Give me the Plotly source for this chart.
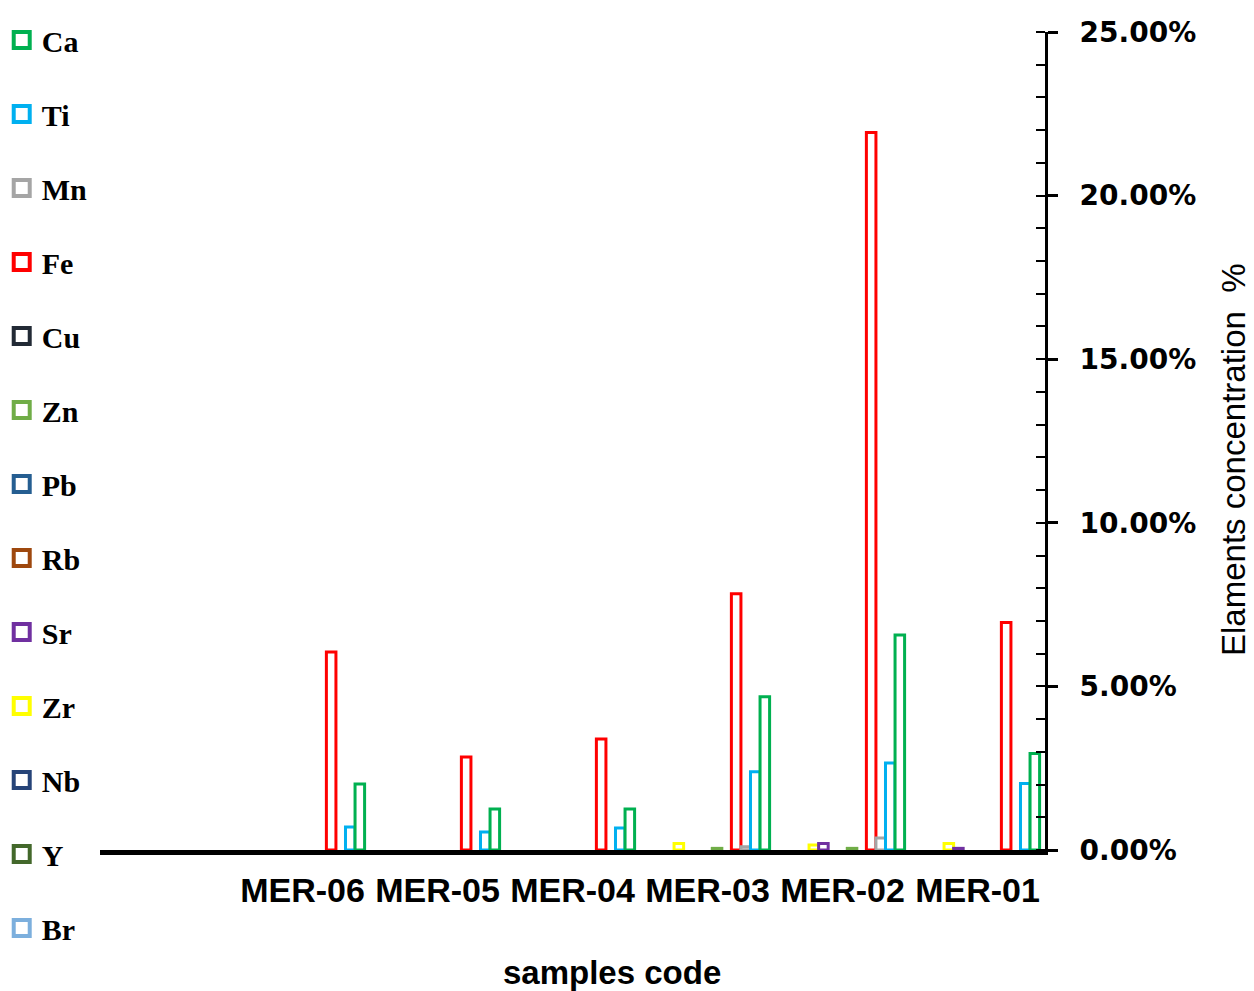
import plotly.graph_objects as go

samples = ["MER-06", "MER-05", "MER-04", "MER-03", "MER-02", "MER-01"]

# element concentrations in percent, per sample (0 = not visible / not detected)
Br = [0, 0, 0, 0, 0, 0]
Y = [0, 0, 0, 0, 0, 0]
Nb = [0, 0, 0, 0, 0, 0]
Zr = [0, 0, 0, 0.20, 0.15, 0.20]
Sr = [0, 0, 0, 0, 0.20, 0.05]
Rb = [0, 0, 0, 0, 0, 0]
Pb = [0, 0, 0, 0, 0, 0]
Zn = [0, 0, 0, 0.05, 0.05, 0]
Cu = [0, 0, 0, 0, 0, 0]
Fe = [6.05, 2.84, 3.39, 7.83, 21.93, 6.95]
Mn = [0, 0, 0, 0.10, 0.37, 0]
Ti = [0.70, 0.55, 0.67, 2.39, 2.66, 2.03]
Ca = [2.02, 1.25, 1.25, 4.68, 6.57, 2.95]

# drawing order (left to right inside a group); legend lists them reversed
series = [
    ("Br", Br, "#7CAFDD"),
    ("Y", Y, "#43682B"),
    ("Nb", Nb, "#264478"),
    ("Zr", Zr, "#FFFF00"),
    ("Sr", Sr, "#7030A0"),
    ("Rb", Rb, "#9E480E"),
    ("Pb", Pb, "#255E91"),
    ("Zn", Zn, "#70AD47"),
    ("Cu", Cu, "#222A35"),
    ("Fe", Fe, "#FF0000"),
    ("Mn", Mn, "#A5A5A5"),
    ("Ti", Ti, "#00B0F0"),
    ("Ca", Ca, "#00B050"),
]

fig = go.Figure()
n = len(series)
for i, (name, vals, col) in enumerate(series):
    fig.add_trace(go.Bar(
        x=samples, y=[v if v > 0 else None for v in vals],
        name=name, legendgroup=name, showlegend=False,
        marker=dict(color="white", line=dict(color=col, width=3)),
    ))
    # legend entry with a larger outlined square symbol
    fig.add_trace(go.Scatter(
        x=[None], y=[None], mode="markers", name=name, legendgroup=name,
        legendrank=n - i, showlegend=True, hoverinfo="skip",
        marker=dict(symbol="square-open", size=16, color=col, line=dict(width=4, color=col)),
    ))

# plot area (figure pixels): x 92..1037, y 24..842  (page is offset by 8px body margin)
L, R, T, B = 92, 1037, 24, 842
PW, PH = R - L, B - T

fig.update_layout(
    width=1254, height=991,
    margin=dict(l=L, r=1254 - R, t=T, b=991 - B, autoexpand=False),
    paper_bgcolor="white", plot_bgcolor="white",
    barmode="group", bargap=0.08, bargroupgap=0,
    showlegend=True,
    legend=dict(
        x=-0.104, xanchor="left", y=1 + 18 / PH, yanchor="top",
        traceorder="grouped", tracegroupgap=32, maxheight=1.0,
        font=dict(family="Liberation Serif", size=30, color="black", weight="bold"),
        itemwidth=30, bgcolor="rgba(0,0,0,0)",
    ),
    xaxis=dict(
        type="category", range=[-1.5, 5.5], automargin=False,
        showline=True, linecolor="black", linewidth=5,
        showgrid=False, ticks="", ticklabelstandoff=6,
        tickfont=dict(family="Liberation Sans", size=34, color="black", weight="bold"),
    ),
    yaxis=dict(
        side="right", range=[0, 25], dtick=5, automargin=False,
        tickformat=".2f", ticksuffix="%",
        showline=True, linecolor="black", linewidth=3,
        showgrid=False, zeroline=False,
        ticks="outside", ticklen=10, tickwidth=3, tickcolor="black",
        ticklabelstandoff=16,
        minor=dict(dtick=1, ticks="inside", ticklen=9, tickwidth=2, tickcolor="black"),
        tickfont=dict(family="DejaVu Sans", size=28, color="black", weight="bold"),
    ),
    annotations=[
        dict(text="samples code", x=(604 - L) / PW, y=-(964 - B) / PH,
             xref="paper", yref="paper", xanchor="center", yanchor="middle",
             showarrow=False,
             font=dict(family="Liberation Sans", size=33, color="black", weight="bold")),
        dict(text="Elaments concentration  %", x=(1225 - L) / PW, y=(B - 452) / PH,
             xref="paper", yref="paper", xanchor="center", yanchor="middle",
             textangle=-90, showarrow=False,
             font=dict(family="Liberation Sans", size=33, color="black")),
    ],
)

fig.write_html("out.html")
